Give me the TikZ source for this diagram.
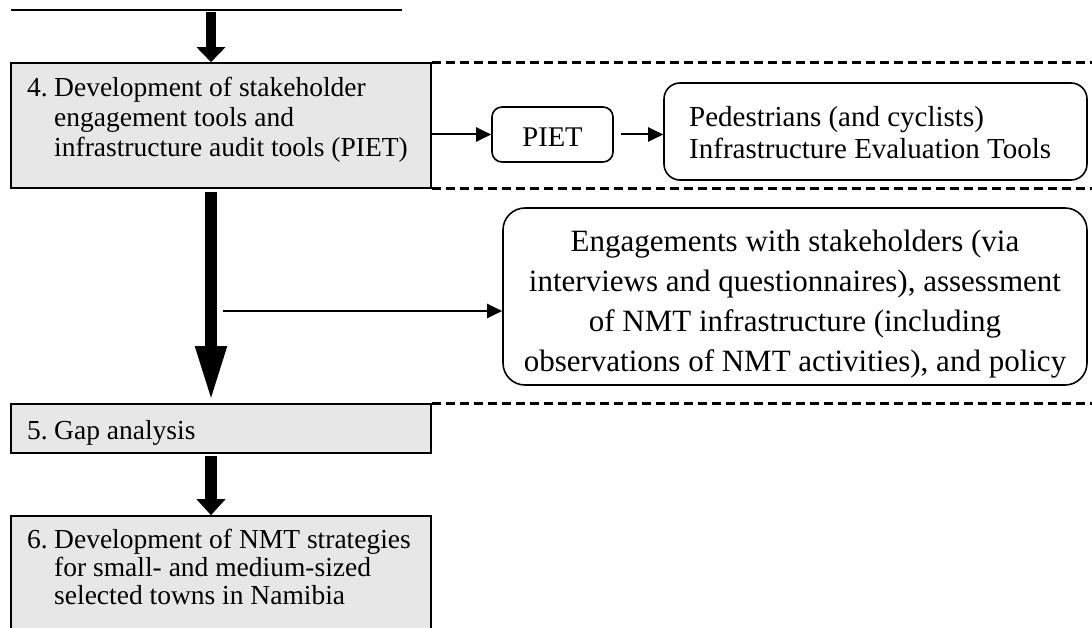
\documentclass[tikz,border=0pt]{standalone}
\usepackage{fontspec}
\setmainfont{Liberation Serif}
\usetikzlibrary{arrows.meta}
\definecolor{boxgray}{HTML}{E7E7E7}
\begin{document}
\begin{tikzpicture}[x=1pt,y=-1pt,
  stepbox/.style={draw=black, line width=1.6, fill=boxgray, inner sep=0},
  rbox/.style={draw=black, line width=1.6, inner sep=0},
  thinarrow/.style={line width=2, -{Triangle[length=15pt,width=14pt]}},
  bigarrow/.style={-{Triangle[length=#1,width=28pt]}},
  dashline/.style={line width=3.2, dash pattern=on 9pt off 5pt},
  txt/.style={inner sep=0, anchor=base west},
  fa/.style={font=\fontsize{27.5}{30}\selectfont},
  fb/.style={font=\fontsize{27.5}{28}\selectfont},
]
\useasboundingbox (0,0) rectangle (1092,628);
\clip (0,0) rectangle (1092,628);
\coordinate (redge) at (1092,0);

% previous box bottom edge
\coordinate (b3l) at (11,10);
\coordinate (b3r) at (402,10);
\draw[line width=1.6] (b3l) -- (b3r);

% boxes
\node[stepbox, minimum width=420, minimum height=125] (b4) at (221,125.5) {};
\node[stepbox, minimum width=420, minimum height=49] (b5) at (221,428.5) {};
\node[stepbox, minimum width=420, minimum height=128] (b6) at (221,580) {};

\node[rbox, rounded corners=10, minimum width=121, minimum height=55] (piet) at (552.5,134.5) {};
\node[rbox, rounded corners=16, minimum width=423, minimum height=97] (ped) at (875.5,131.5) {};
\node[rbox, rounded corners=22, minimum width=584, minimum height=177] (eng) at (795,296.5) {};

% texts
\node[txt, fa] (n4) at (27,97) {4.};
\node[txt, fa] (t4) at (54,97) {\begin{tabular}[t]{@{}l@{}}Development of stakeholder\\engagement tools and\\infrastructure audit tools (PIET)\end{tabular}};
\node[txt, fa] (n5) at (27,439) {5.};
\node[txt, fa] (t5) at (54,439) {Gap analysis};
\node[txt, fb] (n6) at (27,548) {6.};
\node[txt, fb] (t6) at (54,548) {\begin{tabular}[t]{@{}l@{}}Development of NMT strategies\\for small- and medium-sized\\selected towns in Namibia\end{tabular}};
\node[inner sep=0, anchor=base, font=\fontsize{28.5}{30}\selectfont] (tp) at (piet.center |- 0,147) {PIET};
\node[txt, font=\fontsize{29}{32}\selectfont] (tped) at (689,127) {\begin{tabular}[t]{@{}l@{}}Pedestrians (and cyclists)\\Infrastructure Evaluation Tools\end{tabular}};
\node[inner sep=0, anchor=base, font=\fontsize{31}{40}\selectfont] (teng) at (795,252)
  {\begin{tabular}[t]{@{}c@{}}Engagements with stakeholders (via\\interviews and questionnaires), assessment\\of NMT infrastructure (including\\observations of NMT activities), and policy\end{tabular}};

% dashed separators
\draw[dashline] (b4.north east) -- (b4.north east -| redge);
\draw[dashline] (b4.south east) -- (b4.south east -| redge);
\draw[dashline] (b5.north east) -- (b5.north east -| redge);

% big arrows
\coordinate (a0) at (211,12);
\draw[bigarrow=15pt, line width=10.5] (a0) -- (a0 |- b4.north);
\coordinate (a1) at (211,192);
\draw[bigarrow=57pt, line width=12.5] (a1) -- (a1 |- b5.north);
\coordinate (a2) at (211,456);
\draw[bigarrow=16pt, line width=12.5] (a2) -- (a2 |- b6.north);

% thin arrows
\draw[thinarrow] (b4.east |- piet.center) -- (piet.west);
\draw[thinarrow, shorten <=7pt] (piet.east) -- (piet.east -| ped.west);
\coordinate (s1) at (223,311);
\draw[thinarrow] (s1) -- (s1 -| eng.west);
\end{tikzpicture}
\end{document}
